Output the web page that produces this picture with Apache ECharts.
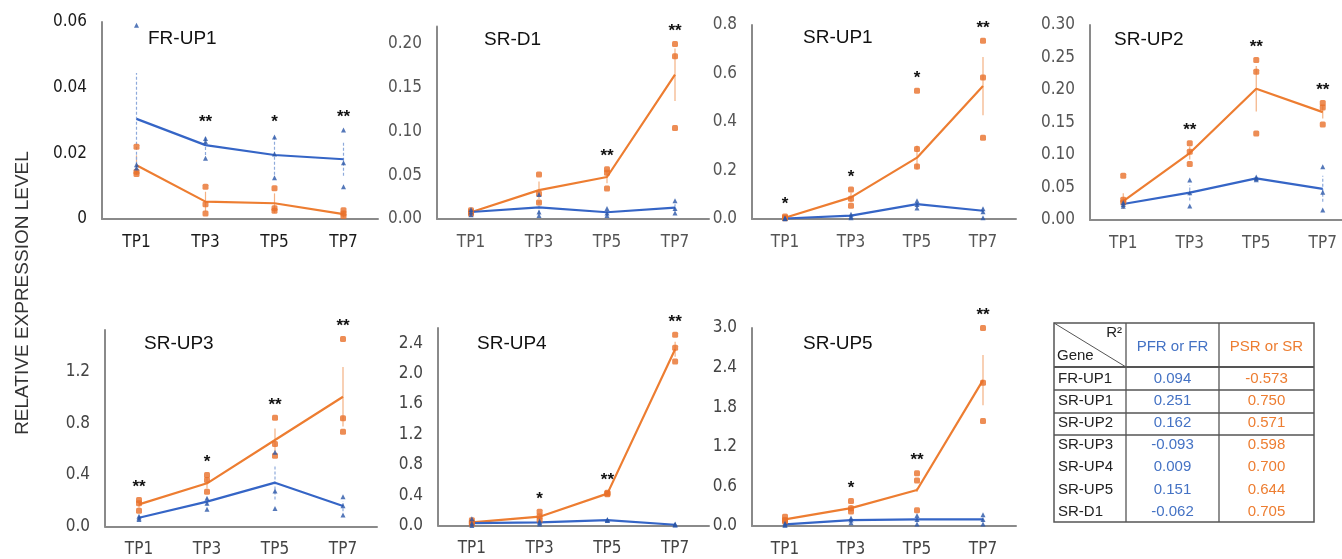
<!DOCTYPE html>
<html><head><meta charset="utf-8">
<script src="https://cdn.jsdelivr.net/npm/echarts@6/dist/echarts.min.js"></script>
<style>html,body{margin:0;padding:0;background:#fff}#c{width:1342px;height:559px}</style>
</head><body><div id="c"></div>
<script>
const categories = ['TP1', 'TP3', 'TP5', 'TP7'];
const yTitle = 'RELATIVE EXPRESSION LEVEL';

// FR-UP1
const frup1Blue = [0.0305, 0.0225, 0.0195, 0.0182];
const frup1BlueErr = [0.014, 0.003, 0.006, 0.005];
const frup1BluePts = [[0.059, 0.0165, 0.0155], [0.0245, 0.0235, 0.0185], [0.025, 0.0198, 0.0126], [0.0271, 0.0171, 0.0098]];
const frup1Orange = [0.0164, 0.0053, 0.0048, 0.0015];
const frup1OrangeErr = [0.003, 0.003, 0.003, 0.001];
const frup1OrangePts = [[0.022, 0.0144, 0.0137], [0.0098, 0.0045, 0.0017], [0.0094, 0.0033, 0.0025], [0.0027, 0.0017, 0.0009]];
const frup1Sig = ['', '**', '*', '**'];

// SR-D1
const srd1Blue = [0.008, 0.0133, 0.0077, 0.013];
const srd1BlueErr = [0.002, 0.007, 0.003, 0.004];
const srd1BluePts = [[0.011, 0.008, 0.005], [0.028, 0.008, 0.004], [0.012, 0.007, 0.004], [0.021, 0.012, 0.007]];
const srd1Orange = [0.0077, 0.033, 0.048, 0.165];
const srd1OrangeErr = [0.001, 0.01, 0.007, 0.03];
const srd1OrangePts = [[0.010, 0.008, 0.006], [0.051, 0.029, 0.019], [0.057, 0.053, 0.035], [0.200, 0.186, 0.104]];
const srd1Sig = ['', '', '**', '**'];

// SR-UP1
const srup1Blue = [0.002, 0.014, 0.061, 0.034];
const srup1BlueErr = [0.001, 0.005, 0.01, 0.012];
const srup1BluePts = [[0.004, 0.002, 0.001], [0.02, 0.01, 0.005], [0.075, 0.06, 0.045], [0.042, 0.03, 0.005]];
const srup1Orange = [0.005, 0.089, 0.253, 0.548];
const srup1OrangeErr = [0.003, 0.02, 0.05, 0.12];
const srup1OrangePts = [[0.01, 0.005, 0.003], [0.122, 0.084, 0.055], [0.529, 0.289, 0.216], [0.735, 0.584, 0.335]];
const srup1Sig = ['*', '*', '*', '**'];

// SR-UP2
const srup2Blue = [0.0246, 0.042, 0.064, 0.048];
const srup2BlueErr = [0.002, 0.012, 0.001, 0.02];
const srup2BluePts = [[0.027, 0.024, 0.021], [0.0615, 0.042, 0.0215], [0.066, 0.064, 0.062], [0.082, 0.0426, 0.0154]];
const srup2Orange = [0.029, 0.103, 0.202, 0.166];
const srup2OrangeErr = [0.012, 0.01, 0.035, 0.01];
const srup2OrangePts = [[0.068, 0.031, 0.027], [0.118, 0.105, 0.086], [0.246, 0.228, 0.133], [0.180, 0.173, 0.147]];
const srup2Sig = ['', '**', '**', '**'];

// SR-UP3
const srup3Blue = [0.068, 0.192, 0.339, 0.158];
const srup3BlueErr = [0.01, 0.03, 0.13, 0.04];
const srup3BluePts = [[0.08, 0.065, 0.055], [0.218, 0.18, 0.133], [0.574, 0.274, 0.14], [0.23, 0.16, 0.089]];
const srup3Orange = [0.171, 0.334, 0.669, 1.004];
const srup3OrangeErr = [0.025, 0.04, 0.09, 0.23];
const srup3OrangePts = [[0.205, 0.18, 0.122], [0.398, 0.36, 0.269], [0.842, 0.638, 0.548], [1.45, 0.837, 0.733]];
const srup3Sig = ['**', '*', '**', '**'];

// SR-UP4
const srup4Blue = [0.03, 0.04, 0.072, 0.01];
const srup4BlueErr = [0.02, 0.01, 0.005, 0.005];
const srup4BluePts = [[0.09, 0.03, 0.0], [0.06, 0.04, 0.02], [0.08, 0.07, 0.065], [0.02, 0.01, 0.005]];
const srup4Orange = [0.042, 0.116, 0.42, 2.32];
const srup4OrangeErr = [0.015, 0.03, 0.01, 0.1];
const srup4OrangePts = [[0.07, 0.04, 0.02], [0.18, 0.12, 0.07], [0.43, 0.42, 0.41], [2.51, 2.34, 2.16]];
const srup4Sig = ['', '*', '**', '**'];

// SR-UP5
const srup5Blue = [0.025, 0.09, 0.1, 0.1];
const srup5BlueErr = [0.01, 0.02, 0.04, 0.04];
const srup5BluePts = [[0.04, 0.02, 0.01], [0.12, 0.09, 0.05], [0.16, 0.1, 0.03], [0.17, 0.1, 0.03]];
const srup5Orange = [0.1, 0.27, 0.545, 2.21];
const srup5OrangeErr = [0.02, 0.05, 0.03, 0.38];
const srup5OrangePts = [[0.14, 0.09, 0.07], [0.38, 0.27, 0.22], [0.8, 0.69, 0.24], [3.0, 2.17, 1.59]];
const srup5Sig = ['', '*', '**', '**'];

// R² table
const tableGenes = ['FR-UP1', 'SR-UP1', 'SR-UP2', 'SR-UP3', 'SR-UP4', 'SR-UP5', 'SR-D1'];
const tablePFR = ['0.094', '0.251', '0.162', '-0.093', '0.009', '0.151', '-0.062'];
const tablePSR = ['-0.573', '0.750', '0.571', '0.598', '0.700', '0.644', '0.705'];
const tableHead = ['PFR or FR', 'PSR or SR'];

const BLUE = '#3565c6', ORANGE = '#ed7d31';
const BLUE_PT = '#2b56a8', ORANGE_PT = '#e8712a';
const BLUE_ERR = '#8eaadb', ORANGE_ERR = '#f4b183';
const NARROW = "'DejaVu Sans Condensed','Liberation Sans Narrow',sans-serif";
const SANS = "'Liberation Sans',Arial,sans-serif";

const panels = [
  {name: 'FR-UP1', blue: frup1Blue, blueErr: frup1BlueErr, bluePts: frup1BluePts, orange: frup1Orange, orangeErr: frup1OrangeErr, orangePts: frup1OrangePts, sig: frup1Sig,
   grid: {left: 102, top: 22, width: 276, height: 197}, max: 0.06, interval: 0.02, fmt: v => v === 0 ? '0' : v.toFixed(2), title: [148, 29], labelColor: '#1a1a1a'},
  {name: 'SR-D1', blue: srd1Blue, blueErr: srd1BlueErr, bluePts: srd1BluePts, orange: srd1Orange, orangeErr: srd1OrangeErr, orangePts: srd1OrangePts, sig: srd1Sig,
   grid: {left: 437, top: 26.5, width: 272, height: 192.5}, max: 0.22, interval: 0.05, fmt: v => v.toFixed(2), title: [484, 30], labelColor: '#555'},
  {name: 'SR-UP1', blue: srup1Blue, blueErr: srup1BlueErr, bluePts: srup1BluePts, orange: srup1Orange, orangeErr: srup1OrangeErr, orangePts: srup1OrangePts, sig: srup1Sig,
   grid: {left: 752, top: 25, width: 264, height: 194}, max: 0.8, interval: 0.2, fmt: v => v.toFixed(1), title: [803, 28], labelColor: '#555'},
  {name: 'SR-UP2', blue: srup2Blue, blueErr: srup2BlueErr, bluePts: srup2BluePts, orange: srup2Orange, orangeErr: srup2OrangeErr, orangePts: srup2OrangePts, sig: srup2Sig,
   grid: {left: 1090, top: 25, width: 266, height: 195}, max: 0.3, interval: 0.05, fmt: v => v.toFixed(2), title: [1114, 30], labelColor: '#555'},
  {name: 'SR-UP3', blue: srup3Blue, blueErr: srup3BlueErr, bluePts: srup3BluePts, orange: srup3Orange, orangeErr: srup3OrangeErr, orangePts: srup3OrangePts, sig: srup3Sig,
   grid: {left: 105, top: 330, width: 272, height: 196.5}, max: 1.52, interval: 0.4, fmt: v => v.toFixed(1), title: [144, 334], labelColor: '#444'},
  {name: 'SR-UP4', blue: srup4Blue, blueErr: srup4BlueErr, bluePts: srup4BluePts, orange: srup4Orange, orangeErr: srup4OrangeErr, orangePts: srup4OrangePts, sig: srup4Sig,
   grid: {left: 438, top: 328, width: 271, height: 197.5}, max: 2.6, interval: 0.4, fmt: v => v.toFixed(1), title: [477, 334], labelColor: '#444'},
  {name: 'SR-UP5', blue: srup5Blue, blueErr: srup5BlueErr, bluePts: srup5BluePts, orange: srup5Orange, orangeErr: srup5OrangeErr, orangePts: srup5OrangePts, sig: srup5Sig,
   grid: {left: 752, top: 328, width: 264, height: 198}, max: 3.0, interval: 0.6, fmt: v => v.toFixed(1), title: [803, 334], labelColor: '#444'}
];

const grids = [], xAxes = [], yAxes = [], series = [], titles = [];
const axisLine = {show: true, lineStyle: {color: '#8a8a8a', width: 2}};

panels.forEach((p, g) => {
  grids.push(Object.assign({outerBoundsMode: 'none', containLabel: false}, p.grid));
  xAxes.push({type: 'category', gridIndex: g, data: categories, boundaryGap: true,
    axisLine, axisTick: {show: false}, splitLine: {show: false},
    axisLabel: {margin: 15, color: p.labelColor, fontFamily: NARROW, fontSize: 17}});
  yAxes.push({type: 'value', gridIndex: g, min: 0, max: p.max, interval: p.interval,
    axisLine, axisTick: {show: false}, splitLine: {show: false},
    axisLabel: {margin: 15, color: p.labelColor, fontFamily: NARROW, fontSize: 17,
      formatter: v => (Math.abs(v / p.interval - Math.round(v / p.interval)) > 1e-6) ? '' : p.fmt(v)}});
  titles.push({text: p.name, left: p.title[0], top: p.title[1], padding: 0,
    textStyle: {fontFamily: SANS, fontSize: 19, fontWeight: 'normal', color: '#111'}});

  const errBar = (mean, err, color, dash) => ({
    type: 'custom', xAxisIndex: g, yAxisIndex: g, silent: true, z: 1,
    data: mean.map((m, i) => [i, m - err[i], m + err[i]]),
    encode: {x: 0, y: [1, 2]},
    renderItem: (params, api) => {
      const lo = api.coord([api.value(0), api.value(1)]);
      const hi = api.coord([api.value(0), api.value(2)]);
      return {type: 'line', shape: {x1: lo[0], y1: lo[1], x2: hi[0], y2: hi[1]},
        style: {stroke: color, lineWidth: 1.2, lineDash: dash}};
    }
  });
  series.push(errBar(p.orange, p.orangeErr, ORANGE_ERR, null));
  series.push(errBar(p.blue, p.blueErr, BLUE_ERR, [3, 2]));

  series.push({type: 'line', xAxisIndex: g, yAxisIndex: g, data: p.orange, symbol: 'none',
    lineStyle: {color: ORANGE, width: 2.2}, z: 3, silent: true});
  series.push({type: 'line', xAxisIndex: g, yAxisIndex: g, data: p.blue, symbol: 'none',
    lineStyle: {color: BLUE, width: 2.2}, z: 3, silent: true});

  series.push({type: 'scatter', xAxisIndex: g, yAxisIndex: g, silent: true, z: 4,
    data: p.orangePts.flatMap((arr, i) => arr.map(v => [i, v])),
    symbol: 'roundRect', symbolSize: 6, itemStyle: {color: ORANGE_PT}});
  series.push({type: 'scatter', xAxisIndex: g, yAxisIndex: g, silent: true, z: 4,
    data: p.bluePts.flatMap((arr, i) => arr.map(v => [i, v])),
    symbol: 'triangle', symbolSize: 5, itemStyle: {color: BLUE_PT}});

  // significance marks above the highest point / error bar
  series.push({type: 'custom', xAxisIndex: g, yAxisIndex: g, silent: true, z: 5,
    data: categories.map((c, i) => [i, Math.max(...p.orangePts[i], ...p.bluePts[i], p.orange[i] + p.orangeErr[i], p.blue[i] + p.blueErr[i])]),
    encode: {x: 0, y: 1},
    renderItem: (params, api) => {
      const s = p.sig[params.dataIndex];
      if (!s) return null;
      const pt = api.coord([api.value(0), api.value(1)]);
      return {type: 'text', x: pt[0], y: pt[1] - 21,
        style: {text: s, fontFamily: SANS, fontSize: 17, fontWeight: 'bold', fill: '#111', align: 'center', verticalAlign: 'top'}};
    }});
});

// table graphics
const T = {x0: 1054, x1: 1126, x2: 1219, x3: 1314, y0: 323, yh: 367, y3: 522};
const tableEls = [];
const ln = (x1, y1, x2, y2, w) => ({type: 'line', shape: {x1, y1, x2, y2}, style: {stroke: '#555', lineWidth: w || 1.3}});
tableEls.push({type: 'rect', shape: {x: T.x0, y: T.y0, width: T.x3 - T.x0, height: T.y3 - T.y0}, style: {fill: 'none', stroke: '#555', lineWidth: 1.5}});
tableEls.push(ln(T.x1, T.y0, T.x1, T.y3));
tableEls.push(ln(T.x2, T.y0, T.x2, T.y3));
tableEls.push(ln(T.x0, T.yh, T.x3, T.yh, 2));
tableEls.push(ln(T.x0, 390, T.x3, 390));
tableEls.push(ln(T.x0, 413, T.x3, 413));
tableEls.push(ln(T.x0, 435, T.x3, 435));
tableEls.push(ln(T.x0, T.y0, T.x1, T.yh, 1));
const txt = (text, x, y, color, align) => ({type: 'text', x, y,
  style: {text, fontFamily: SANS, fontSize: 15, fill: color, align: align || 'center', verticalAlign: 'middle'}});
tableEls.push(txt('R²', 1122, 333, '#222', 'right'));
tableEls.push(txt('Gene', 1057, 356, '#222', 'left'));
tableEls.push(txt(tableHead[0], (T.x1 + T.x2) / 2, 347, '#4472c4'));
tableEls.push(txt(tableHead[1], (T.x2 + T.x3) / 2, 347, ORANGE));
tableGenes.forEach((gname, i) => {
  const y = 378.5 + i * 22.2;
  tableEls.push(txt(gname, 1058, y, '#222', 'left'));
  tableEls.push(txt(tablePFR[i], (T.x1 + T.x2) / 2, y, '#4472c4'));
  tableEls.push(txt(tablePSR[i], (T.x2 + T.x3) / 2, y, ORANGE));
});
tableEls.push({type: 'text', x: 23, y: 293, rotation: Math.PI / 2,
  style: {text: yTitle, fontFamily: SANS, fontSize: 19, fill: '#333', align: 'center', verticalAlign: 'middle'}});

const chart = echarts.init(document.getElementById('c'), null, {renderer: 'canvas'});
chart.setOption({
  animation: false,
  backgroundColor: '#fff',
  title: titles,
  grid: grids,
  xAxis: xAxes,
  yAxis: yAxes,
  series,
  graphic: {elements: tableEls}
});
</script></body></html>
